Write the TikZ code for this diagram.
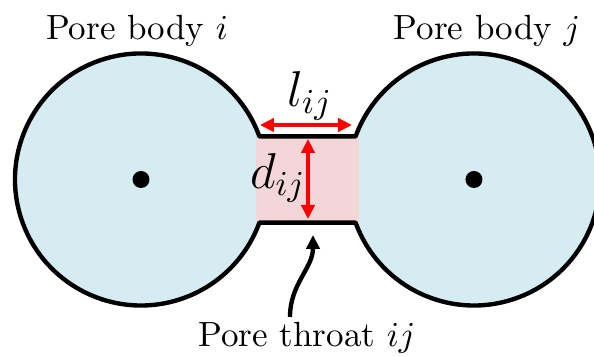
\documentclass[tikz,border=0pt]{standalone}
\usetikzlibrary{arrows.meta,calc}
\definecolor{poreblue}{RGB}{214,236,243}
\definecolor{throatpink}{RGB}{243,214,216}
\definecolor{arrred}{RGB}{255,0,0}
\begin{document}
\begin{tikzpicture}[x=0.2857pt,y=0.2857pt,
  wall/.style={line width=1.25pt,line join=round},
  dimarrow/.style={draw=arrred,line width=0.95pt,{Triangle[length=4pt,width=3.8pt]}-{Triangle[length=4pt,width=3.8pt]}},
  lbl/.style={inner sep=0pt,font=\normalsize},
  mlbl/.style={inner sep=0pt,font=\Large}]
\useasboundingbox (0,0) rectangle (594,356);
\begin{scope}
\clip (0,0) rectangle (594,356);
\coordinate (ci) at (141,176.5);
\coordinate (cj) at (474,176.5);
% pore bodies
\fill[poreblue] (ci) circle[radius=126];
\fill[poreblue] (cj) circle[radius=126];
% throat
\fill[throatpink] (256,133.3) rectangle (359,219.3);
% outline
\draw[wall] (ci) ++(20:126) arc[start angle=20,end angle=340,radius=126]
  -- ($(cj)+(200:126)$) arc[start angle=-160,end angle=160,radius=126] -- cycle;
\end{scope}
\fill (ci) circle[radius=8.5];
\fill (cj) circle[radius=8.5];
% dimensions
\coordinate (la) at (260,231);
\coordinate (lb) at (352,231);
\coordinate (da) at (308,217);
\coordinate (db) at (308,137);
\draw[dimarrow] (la) -- (lb);
\draw[dimarrow] (da) -- (db);
\node[mlbl] (lij) at (310,260) {$l_{ij}$};
\node[mlbl] (dij) at (278,178) {$d_{ij}$};
% labels
\node[lbl] (bi) at (137,325) {Pore body $i$};
\node[lbl] (bj) at (487,325) {Pore body $j$};
\node[lbl] (pt) at (307,18) {Pore throat $ij$};
\coordinate (pstart) at (290,39);
\coordinate (ptip) at (313,121);
\draw[line width=1.25pt,-{Triangle[length=4pt,width=3.8pt]}] (pstart) to[out=90,in=-90] (ptip);
\end{tikzpicture}
\end{document}
